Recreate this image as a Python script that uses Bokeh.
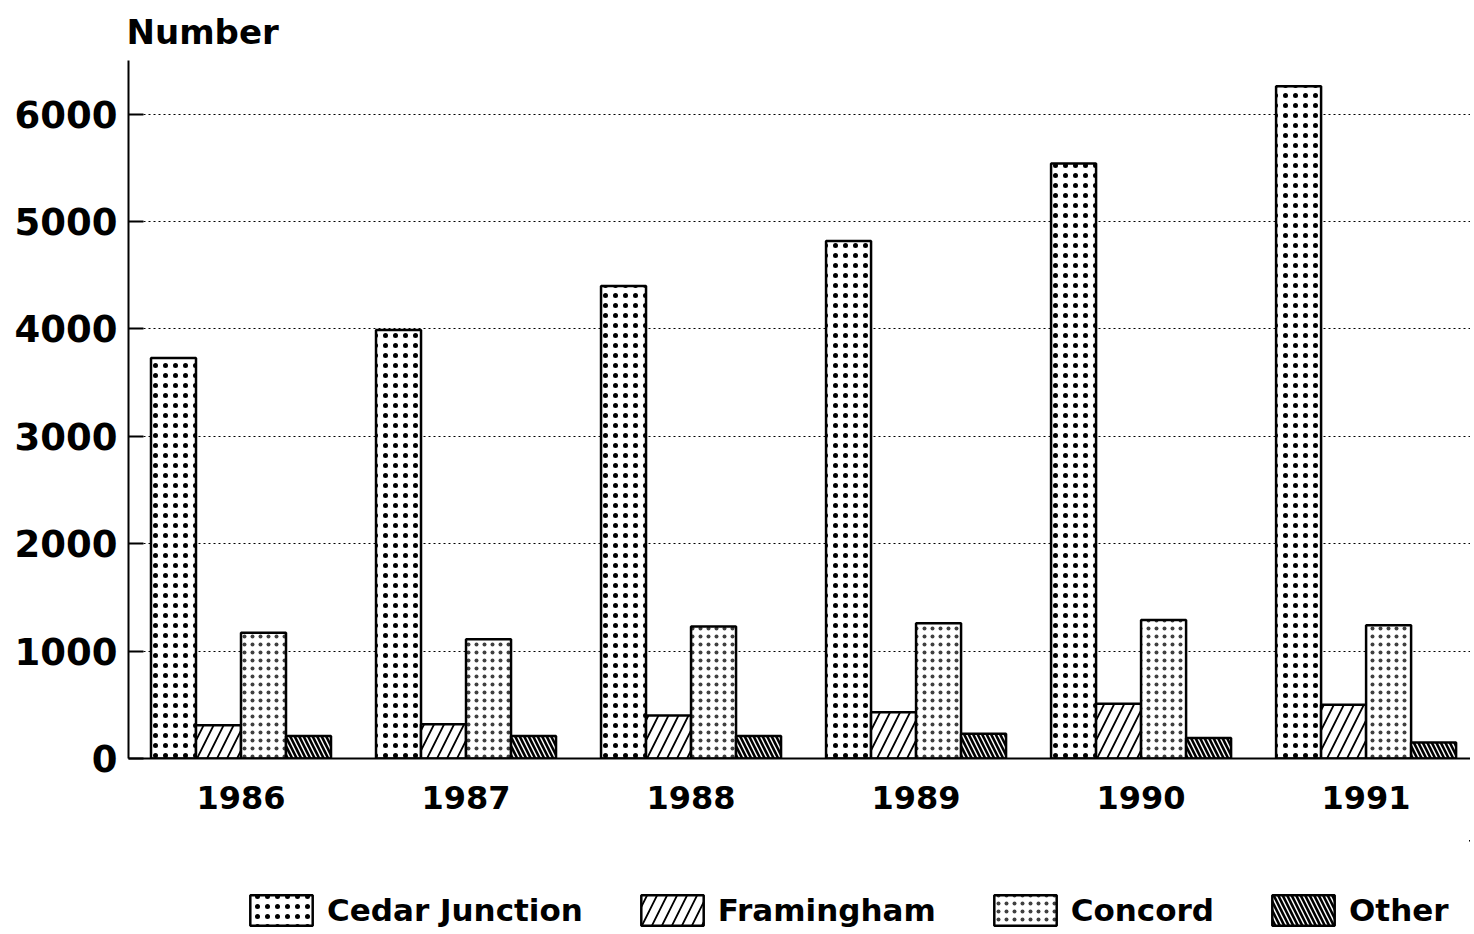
from bokeh.plotting import figure
from bokeh.models import Range1d, FixedTicker, Legend, LegendItem, ColumnDataSource
from bokeh.transform import dodge
from bokeh.layouts import column
from bokeh.embed import file_html
from bokeh.resources import INLINE

years = ["1986", "1987", "1988", "1989", "1990", "1991"]
cedar_junction = [3730, 3990, 4400, 4820, 5540, 6260]
framingham = [310, 320, 400, 430, 510, 500]
concord = [1170, 1110, 1230, 1260, 1290, 1240]
other = [210, 210, 210, 230, 190, 150]
series_names = ["Cedar Junction", "Framingham", "Concord", "Other"]
y_ticks = [0, 1000, 2000, 3000, 4000, 5000, 6000]

x_idx = list(range(len(years)))
src = ColumnDataSource(dict(x=x_idx, cedar=cedar_junction, fram=framingham,
                            conc=concord, oth=other))

FONT = "DejaVu Sans"

p = figure(width=1470, height=840, x_range=Range1d(-0.5, 5.464), y_range=Range1d(0, 6500),
           output_backend="svg", toolbar_location=None,
           min_border_left=128, min_border_right=0, min_border_top=60, min_border_bottom=82)

p.title.text = "Number"
p.title.text_font = FONT
p.title.text_font_size = "34px"
p.title.text_font_style = "bold"
p.title.text_color = "black"
p.title.align = "left"
p.title.offset = -2
p.title.standoff = 17

styles = [
    dict(field="cedar", off=-0.3, pattern="dot", scale=10, weight=2.6, alpha=1.0),
    dict(field="fram", off=-0.1, pattern="right_diagonal_line", scale=20, weight=1.8, alpha=1.0),
    dict(field="conc", off=0.1, pattern="dot", scale=8, weight=0.2, alpha=0.75),
    dict(field="oth", off=0.3, pattern="left_diagonal_line", scale=9, weight=2.6, alpha=1.0),
]


def bar_style(st):
    return dict(fill_color="white", line_color="black", line_width=2.5,
                hatch_pattern=st["pattern"], hatch_scale=st["scale"], hatch_weight=st["weight"],
                hatch_color="black", hatch_alpha=st["alpha"])


for st in styles:
    p.vbar(x=dodge("x", st["off"], range=p.x_range), top=st["field"], width=0.2, source=src,
           **bar_style(st))

p.xaxis.ticker = FixedTicker(ticks=x_idx)
p.xaxis.major_label_overrides = {i: y for i, y in zip(x_idx, years)}
p.xaxis.major_tick_line_color = None
p.xaxis.minor_tick_line_color = None
p.xaxis.axis_line_width = 2
p.xaxis.major_label_text_font = FONT
p.xaxis.major_label_text_font_style = "bold"
p.xaxis.major_label_text_font_size = "32px"
p.xaxis.major_label_text_color = "black"
p.xaxis.major_label_standoff = 21

p.yaxis.ticker = FixedTicker(ticks=y_ticks)
p.yaxis.major_tick_in = 15
p.yaxis.major_tick_out = 0
p.yaxis.major_tick_line_width = 2
p.yaxis.minor_tick_line_color = None
p.yaxis.axis_line_width = 2
p.yaxis.major_label_text_font = FONT
p.yaxis.major_label_text_font_style = "bold"
p.yaxis.major_label_text_font_size = "37px"
p.yaxis.major_label_text_color = "black"
p.yaxis.major_label_standoff = 11

p.xgrid.visible = False
p.ygrid.ticker = FixedTicker(ticks=y_ticks)
p.ygrid.grid_line_color = "black"
p.ygrid.grid_line_dash = "2 3"
p.ygrid.grid_line_width = 1
p.outline_line_color = None

# legend strip below the chart (its renderers use the same data, kept out of view)
pl = figure(width=1470, height=90, x_range=Range1d(-1000, -999), y_range=Range1d(-20000, -19999),
            output_backend="svg", toolbar_location=None,
            x_axis_location=None, y_axis_location=None,
            min_border_left=0, min_border_right=0, min_border_top=0, min_border_bottom=0)
pl.grid.visible = False
pl.outline_line_color = None
leg_renderers = []
for st in styles:
    r = pl.vbar(x="x", top=st["field"], width=0.2, source=src, **bar_style(st))
    leg_renderers.append(r)

legend = Legend(items=[LegendItem(label=n, renderers=[r]) for n, r in zip(series_names, leg_renderers)],
                orientation="horizontal", location=(114, 1), glyph_width=78, glyph_height=38,
                label_standoff=7, spacing=50, padding=0, margin=0, border_line_color=None,
                background_fill_alpha=0, label_text_font=FONT, label_text_font_style="bold",
                label_text_font_size="31px", label_text_color="black")
pl.add_layout(legend, "center")

open("out.html", "w").write(file_html(column(p, pl), INLINE))
